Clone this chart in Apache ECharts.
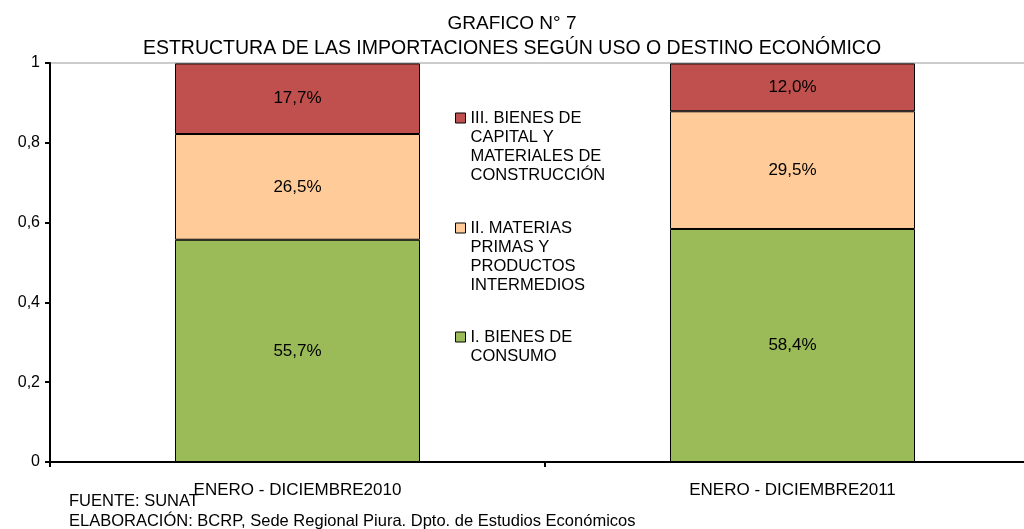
<!DOCTYPE html>
<html>
<head>
<meta charset="utf-8">
<script src="https://cdn.jsdelivr.net/npm/echarts@6/dist/echarts.min.js"></script>
<style>
html,body{margin:0;padding:0;background:#fff;}
#chart{width:1024px;height:529px;}
</style>
</head>
<body>
<div id="chart"></div>
<script>
var categories = ['ENERO - DICIEMBRE2010', 'ENERO - DICIEMBRE2011'];
var consumo = [0.557, 0.584];
var materias = [0.265, 0.295];
var capital = [0.177, 0.120];
var yTicks = [0, 0.2, 0.4, 0.6, 0.8, 1];

var nameI = 'I. BIENES DE\nCONSUMO';
var nameII = 'II. MATERIAS\nPRIMAS Y\nPRODUCTOS\nINTERMEDIOS';
var nameIII = 'III. BIENES DE\nCAPITAL Y\nMATERIALES DE\nCONSTRUCCIÓN';

var font = '"Liberation Sans", Arial, sans-serif';

function pct(p) {
    return (p.value * 100).toFixed(1).replace('.', ',') + '%';
}

// one legend per item so the icon sits on the first text line:
// empty lines in front keep the first line at the icon's height
function legendAt(name, iconY) {
    var n = name.split('\n').length;
    var lh = 19;
    return {
        data: [name],
        left: 455,
        top: iconY - (2 * n - 1) * lh / 2,
        padding: 0,
        selectedMode: false,
        icon: 'rect',
        itemWidth: 10,
        itemHeight: 10,
        itemStyle: { borderColor: '#000', borderWidth: 1 },
        formatter: function (s) { return new Array(n).join('\n') + s; },
        textStyle: { fontFamily: font, fontSize: 16.5, color: '#000', lineHeight: lh }
    };
}

function barSeries(name, data, color) {
    return {
        name: name,
        type: 'bar',
        stack: 'total',
        barWidth: '49.5%',
        data: data,
        itemStyle: { color: color, borderColor: '#000', borderWidth: 1 },
        label: {
            show: true, position: 'inside', color: '#000',
            fontFamily: font, fontSize: 17, formatter: pct
        }
    };
}

var myChart = echarts.init(document.getElementById('chart'));
var option = {
    animation: false,
    title: [
        {
            text: 'GRAFICO N° 7',
            left: 'center', top: 9,
            textStyle: { fontFamily: font, fontSize: 19, fontWeight: 'normal', color: '#000' }
        },
        {
            text: 'ESTRUCTURA DE LAS IMPORTACIONES SEGÚN USO O DESTINO ECONÓMICO',
            left: 'center', top: 34,
            textStyle: { fontFamily: font, fontSize: 19.5, fontWeight: 'normal', color: '#000' }
        },
        {
            text: 'FUENTE: SUNAT\nELABORACIÓN: BCRP, Sede Regional Piura. Dpto. de Estudios Económicos',
            left: 64, top: 486,
            textStyle: { fontFamily: font, fontSize: 16.5, fontWeight: 'normal', color: '#000', lineHeight: 20 }
        }
    ],
    legend: [
        legendAt(nameIII, 118),
        legendAt(nameII, 228),
        legendAt(nameI, 337)
    ],
    grid: {
        left: 50, right: -16, top: 63, bottom: 67,
        outerBoundsMode: 'none',
        show: true, borderColor: '#999', borderWidth: 1
    },
    xAxis: {
        type: 'category',
        data: categories,
        axisLine: { lineStyle: { color: '#000', width: 2 } },
        axisTick: { show: true, length: 5, lineStyle: { color: '#000', width: 2 } },
        axisLabel: { margin: 20, color: '#000', fontFamily: font, fontSize: 17 }
    },
    yAxis: {
        type: 'value',
        min: 0, max: 1, interval: 0.2,
        axisLine: { show: true, lineStyle: { color: '#000', width: 2 } },
        axisTick: { show: true, length: 5, lineStyle: { color: '#000', width: 2 } },
        splitLine: { show: false },
        axisLabel: {
            color: '#000', fontFamily: font, fontSize: 16, margin: 10,
            formatter: function (v) {
                var t = yTicks.filter(function (x) { return Math.abs(x - v) < 1e-9; })[0];
                return String(t === undefined ? v : t).replace('.', ',');
            }
        }
    },
    series: [
        barSeries(nameI, consumo, '#9BBB59'),
        barSeries(nameII, materias, '#FFCC99'),
        barSeries(nameIII, capital, '#C0504D')
    ]
};
myChart.setOption(option);
</script>
</body>
</html>
